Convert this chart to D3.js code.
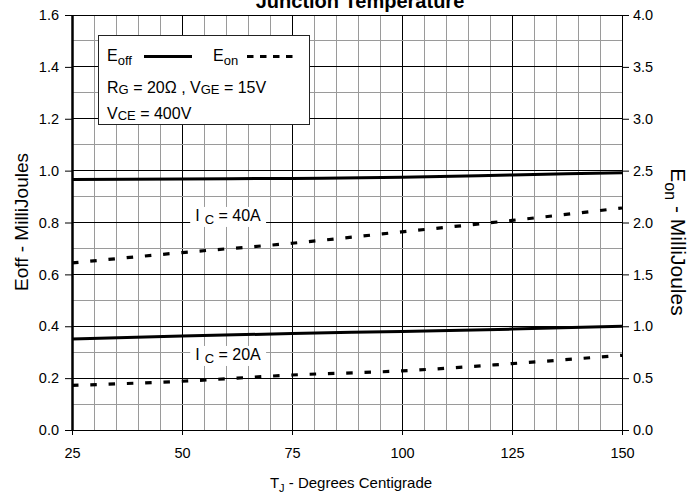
<!DOCTYPE html>
<html>
<head>
<meta charset="utf-8">
<script src="https://cdn.jsdelivr.net/npm/d3@7"></script>
<style>
  body { margin: 0; background: #fff; }
  svg { display: block; font-family: "Liberation Sans", Arial, sans-serif; }
</style>
</head>
<body>
<div id="chart"></div>
<script>
// junction temperature (deg C)
var temps = [25, 50, 75, 100, 125, 150];
// Eoff, left axis (mJ)
var eoff40 = [0.966, 0.968, 0.970, 0.974, 0.983, 0.992];
var eoff20 = [0.351, 0.362, 0.372, 0.380, 0.389, 0.400];
// Eon, right axis (mJ)
var eon40 = [1.61, 1.71, 1.80, 1.91, 2.02, 2.14];
var eon20 = [0.43, 0.47, 0.53, 0.57, 0.64, 0.72];

var xTicks = [25, 50, 75, 100, 125, 150];
var leftTicks = [0, 0.2, 0.4, 0.6, 0.8, 1.0, 1.2, 1.4, 1.6];
var rightTicks = [0, 0.5, 1.0, 1.5, 2.0, 2.5, 3.0, 3.5, 4.0];
var curveLabels = ["40A", "20A"];

var svgWidth = 689, svgHeight = 496;
var margin = {top: 15, right: 67, bottom: 66, left: 72};
var chartWidth = svgWidth - margin.left - margin.right;
var chartHeight = svgHeight - margin.top - margin.bottom;

var svg = d3.select("#chart")
    .append("svg")
    .attr("width", svgWidth)
    .attr("height", svgHeight);

var chartGroup = svg.append("g")
    .attr("transform", `translate(${margin.left}, ${margin.top})`);

var x = d3.scaleLinear().domain([25, 150]).range([0, chartWidth]);
var yLeft = d3.scaleLinear().domain([0, 1.6]).range([chartHeight, 0]);
var yRight = d3.scaleLinear().domain([0, 4]).range([chartHeight, 0]);

// grid - minor gray, major black
var grid = chartGroup.append("g");
d3.range(25, 150.1, 5).forEach(function(t) {
    var major = (t - 25) % 25 === 0;
    grid.append("line")
        .attr("x1", x(t)).attr("x2", x(t))
        .attr("y1", 0).attr("y2", chartHeight)
        .attr("stroke", major ? "#000" : "#9a9a9a")
        .attr("stroke-width", 1)
        .attr("shape-rendering", "crispEdges");
});
d3.range(0, 16.1, 1).forEach(function(i) {
    var v = i / 10;
    grid.append("line")
        .attr("x1", 0).attr("x2", chartWidth)
        .attr("y1", yLeft(v)).attr("y2", yLeft(v))
        .attr("stroke", i % 2 === 0 ? "#000" : "#9a9a9a")
        .attr("stroke-width", 1)
        .attr("shape-rendering", "crispEdges");
});

// axes
var leftAxis = d3.axisLeft(yLeft).tickValues(leftTicks)
    .tickFormat(d3.format(".1f")).tickSize(7).tickSizeOuter(0).tickPadding(6);
var rightAxis = d3.axisRight(yRight).tickValues(rightTicks)
    .tickFormat(d3.format(".1f")).tickSize(7).tickSizeOuter(0).tickPadding(4);
var bottomAxis = d3.axisBottom(x).tickValues(xTicks)
    .tickSize(5).tickSizeOuter(0).tickPadding(13);

var gl = chartGroup.append("g").call(leftAxis);
gl.select(".domain").attr("stroke-width", 2.5);
var gr = chartGroup.append("g")
    .attr("transform", `translate(${chartWidth}, 0)`)
    .call(rightAxis);
var gb = chartGroup.append("g")
    .attr("transform", `translate(0, ${chartHeight})`)
    .call(bottomAxis);
[gl, gr, gb].forEach(function(g) {
    g.selectAll("text").attr("font-size", 14.5).attr("fill", "#000")
        .attr("font-family", "Liberation Sans, Arial, sans-serif");
    g.selectAll("line").attr("stroke", "#000");
});

// curves
var lineLeft = d3.line()
    .x((d, i) => x(temps[i]))
    .y(d => yLeft(d))
    .curve(d3.curveMonotoneX);
var lineRight = d3.line()
    .x((d, i) => x(temps[i]))
    .y(d => yRight(d))
    .curve(d3.curveMonotoneX);

[eoff40, eoff20].forEach(function(s) {
    chartGroup.append("path")
        .attr("d", lineLeft(s))
        .attr("fill", "none")
        .attr("stroke", "#000")
        .attr("stroke-width", 3);
});
[eon40, eon20].forEach(function(s) {
    chartGroup.append("path")
        .attr("d", lineRight(s))
        .attr("fill", "none")
        .attr("stroke", "#000")
        .attr("stroke-width", 3.2)
        .attr("stroke-dasharray", "6.5,11.8");
});

// curve labels
function icLabel(tx, ty, txt) {
    var g = chartGroup.append("g");
    var t = g.append("text")
        .attr("x", tx).attr("y", ty)
        .attr("font-size", 16);
    t.append("tspan").text("I");
    t.append("tspan").attr("dx", 5).attr("dy", 3).attr("font-size", 13).text("C");
    t.append("tspan").attr("dy", -3).text(" = " + txt);
    var bb = t.node().getBBox();
    g.insert("rect", "text")
        .attr("x", bb.x - 5).attr("y", bb.y)
        .attr("width", bb.width + 10).attr("height", bb.height)
        .attr("fill", "#fff");
}
icLabel(x(53), yLeft(0.806), curveLabels[0]);
icLabel(x(53), yLeft(0.27), curveLabels[1]);

// legend
var lg = svg.append("g");
lg.append("rect")
    .attr("x", 98.5).attr("y", 35.5)
    .attr("width", 211).attr("height", 89)
    .attr("fill", "#fff").attr("stroke", "#222").attr("stroke-width", 1);
var t1 = lg.append("text").attr("x", 107).attr("y", 61).attr("font-size", 16);
t1.append("tspan").text("E");
t1.append("tspan").attr("dy", 4).attr("font-size", 13).text("off");
lg.append("line").attr("x1", 144).attr("x2", 192).attr("y1", 56.5).attr("y2", 56.5)
    .attr("stroke", "#000").attr("stroke-width", 3);
var t2 = lg.append("text").attr("x", 213).attr("y", 61).attr("font-size", 16);
t2.append("tspan").text("E");
t2.append("tspan").attr("dy", 4).attr("font-size", 13).text("on");
lg.append("line").attr("x1", 247).attr("x2", 293).attr("y1", 56.5).attr("y2", 56.5)
    .attr("stroke", "#000").attr("stroke-width", 3).attr("stroke-dasharray", "6.5,6.5");
var t3 = lg.append("text").attr("x", 107).attr("y", 93).attr("font-size", 16);
t3.append("tspan").text("R");
t3.append("tspan").attr("dy", 1).attr("font-size", 13).text("G");
t3.append("tspan").attr("dy", -1).text(" = 20\u03A9 , V");
t3.append("tspan").attr("dy", 1).attr("font-size", 13).text("GE");
t3.append("tspan").attr("dy", -1).text(" = 15V");
var t4 = lg.append("text").attr("x", 107).attr("y", 119).attr("font-size", 16);
t4.append("tspan").text("V");
t4.append("tspan").attr("dy", 1).attr("font-size", 13).text("CE");
t4.append("tspan").attr("dy", -1).text(" = 400V");

// title (cut off at top, as in the source)
svg.append("text")
    .attr("x", 360).attr("y", 8)
    .attr("text-anchor", "middle")
    .attr("font-size", 20)
    .attr("font-weight", "bold")
    .text("Junction Temperature");

// x axis title
var xt = svg.append("text")
    .attr("x", 351).attr("y", 488)
    .attr("text-anchor", "middle")
    .attr("font-size", 15);
xt.append("tspan").text("T");
xt.append("tspan").attr("dy", 4).attr("font-size", 11).text("J");
xt.append("tspan").attr("dy", -4).text(" - Degrees Centigrade");

// left axis title
svg.append("text")
    .attr("transform", "translate(28, 222) rotate(-90)")
    .attr("text-anchor", "middle")
    .attr("font-size", 19)
    .text("Eoff - MilliJoules");

// right axis title
var rt = svg.append("text")
    .attr("transform", "translate(671, 242) rotate(90)")
    .attr("text-anchor", "middle")
    .attr("font-size", 21);
rt.append("tspan").text("E");
rt.append("tspan").attr("dy", 6).attr("font-size", 16).text("on");
rt.append("tspan").attr("dy", -6).text(" - MilliJoules");
</script>
</body>
</html>
